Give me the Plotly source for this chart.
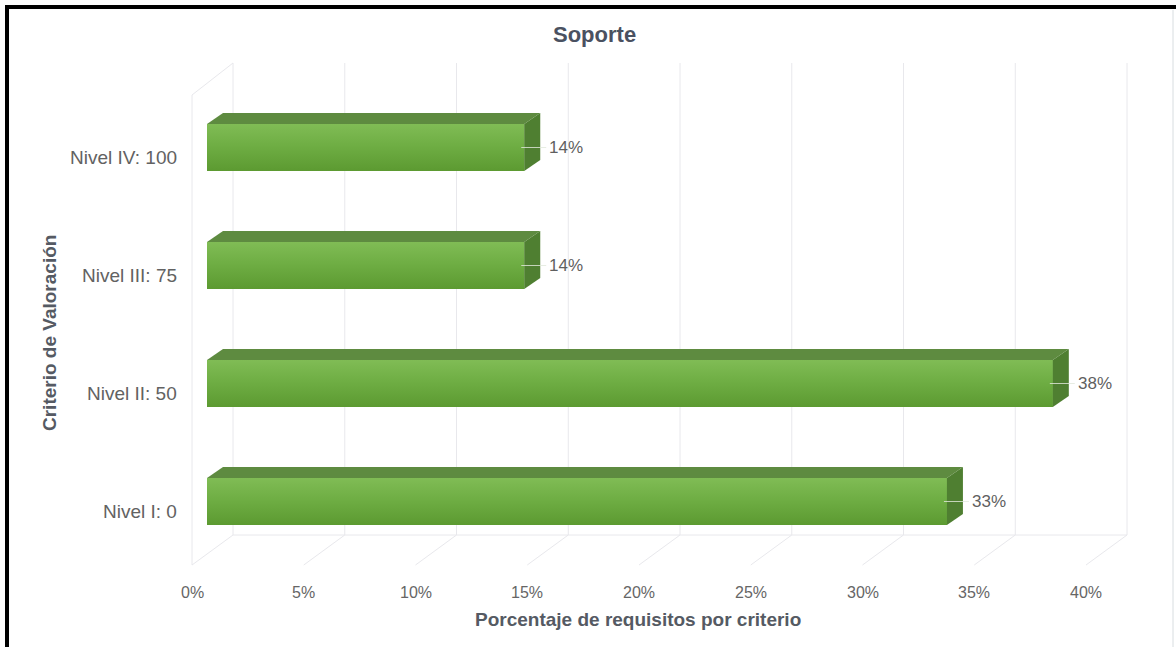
import plotly.graph_objects as go

# ---------------- data ----------------
categories = ["Nivel I: 0", "Nivel II: 50", "Nivel III: 75", "Nivel IV: 100"]
values = [33.33, 38.10, 14.29, 14.29]
value_labels = ["33%", "38%", "14%", "14%"]
tick_values = [0, 5, 10, 15, 20, 25, 30, 35, 40]
tick_labels = ["0%", "5%", "10%", "15%", "20%", "25%", "30%", "35%", "40%"]
title_text = "Soporte"
x_title = "Porcentaje de requisitos por criterio"
y_title = "Criterio de Valoración"

# ---------------- geometry (pixel <-> data) ----------------
W, H = 1176, 647
X0, SX = 207.0, 22.2      # px of 0 %, px per %
Y0, SY = 501.5, 118.0     # px of first category, px per category


def px2x(px):
    return (px - X0) / SX


def py2y(py):
    return (Y0 - py) / SY


BAR_W = 47.0 / SY
DX, DY = 16.0 / SX, 11.0 / SY          # bar depth offsets in data units
BACK_OFF, FRONT_OFF = 26.0, -15.0      # px offsets of back/front planes
TICK_SCALE = 22.35
BACK_TOP, BACK_BOTTOM, FRONT_BOTTOM = 63, 535, 565

FRONT_COL = "#6eab43"
TOP_COL = "#5e8b40"
SIDE_COL = "#4f7f31"
GRID_COL = "#e8e8ec"

idx = list(range(len(categories)))

fig = go.Figure()

# grid: back plane verticals and floor diagonals
shapes = []
for t in tick_values:
    bx = X0 + BACK_OFF + TICK_SCALE * t
    fx = X0 + FRONT_OFF + TICK_SCALE * t
    shapes.append(dict(type="line", xref="x", yref="y",
                       x0=px2x(bx), x1=px2x(bx), y0=py2y(BACK_TOP), y1=py2y(BACK_BOTTOM),
                       line=dict(color=GRID_COL, width=1), layer="below"))
    shapes.append(dict(type="line", xref="x", yref="y",
                       x0=px2x(bx), x1=px2x(fx), y0=py2y(BACK_BOTTOM), y1=py2y(FRONT_BOTTOM),
                       line=dict(color=GRID_COL, width=1), layer="below"))
# left wall
lx_back = X0 + BACK_OFF
lx_front = X0 + FRONT_OFF
shapes.append(dict(type="line", xref="x", yref="y",
                   x0=px2x(lx_front), x1=px2x(lx_front), y0=py2y(BACK_TOP + 32), y1=py2y(FRONT_BOTTOM),
                   line=dict(color=GRID_COL, width=1), layer="below"))
shapes.append(dict(type="line", xref="x", yref="y",
                   x0=px2x(lx_back), x1=px2x(lx_front), y0=py2y(BACK_TOP), y1=py2y(BACK_TOP + 32),
                   line=dict(color=GRID_COL, width=1), layer="below"))
# back-bottom edge
shapes.append(dict(type="line", xref="x", yref="y",
                   x0=px2x(lx_back), x1=px2x(X0 + BACK_OFF + TICK_SCALE * tick_values[-1]),
                   y0=py2y(BACK_BOTTOM), y1=py2y(BACK_BOTTOM),
                   line=dict(color=GRID_COL, width=1), layer="below"))

# frame (black left & top edges, light right edge)
shapes.append(dict(type="line", xref="paper", yref="paper",
                   x0=7 / W, x1=7 / W, y0=0, y1=1 - 5 / H,
                   line=dict(color="black", width=4)))
shapes.append(dict(type="line", xref="paper", yref="paper",
                   x0=5 / W, x1=1, y0=1 - 7 / H, y1=1 - 7 / H,
                   line=dict(color="black", width=4)))
shapes.append(dict(type="line", xref="paper", yref="paper",
                   x0=1173 / W, x1=1173 / W, y0=0, y1=1 - 10 / H,
                   line=dict(color="#d8dde0", width=1)))

# front faces (bars)
fig.add_trace(go.Bar(x=values, y=idx, orientation="h", width=BAR_W,
                     marker=dict(color=FRONT_COL, line=dict(width=0)),
                     hoverinfo="skip"))

for i, v in zip(idx, values):
    top = i + BAR_W / 2
    bot = i - BAR_W / 2
    # gradient overlay on front face
    fig.add_trace(go.Scatter(x=[0, v, v, 0, 0], y=[bot, bot, top, top, bot],
                             mode="lines", line=dict(width=0), fill="toself",
                             fillgradient=dict(type="vertical",
                                               colorscale=[[0, "#5c9a31"], [0.55, "#6fae44"], [1, "#80bc55"]]),
                             hoverinfo="skip"))
    # top face
    fig.add_trace(go.Scatter(x=[0, v, v + DX, DX, 0], y=[top, top, top + DY, top + DY, top],
                             mode="lines", line=dict(width=0), fill="toself",
                             fillcolor=TOP_COL, hoverinfo="skip"))
    # side face
    fig.add_trace(go.Scatter(x=[v, v + DX, v + DX, v, v], y=[top, top + DY, bot + DY, bot, top],
                             mode="lines", line=dict(width=0), fill="toself",
                             fillcolor=SIDE_COL, hoverinfo="skip"))
    # label connector
    fig.add_trace(go.Scatter(x=[v - 3 / SX, v + 22 / SX], y=[i, i],
                             mode="lines", line=dict(color="rgba(225,232,220,0.8)", width=1),
                             hoverinfo="skip"))

annotations = []
# data labels
for i, v, lab in zip(idx, values, value_labels):
    annotations.append(dict(x=v + 23 / SX, y=i, xref="x", yref="y", text=lab,
                            showarrow=False, xanchor="left", yanchor="middle",
                            font=dict(size=17, color="#5f5f5f")))
# category labels
for i, c in zip(idx, categories):
    annotations.append(dict(x=px2x(179), y=i - 10 / SY, xref="x", yref="y", text=c,
                            showarrow=False, xanchor="right", yanchor="middle",
                            font=dict(size=19, color="#626262")))
# x tick labels
for t, lab in zip(tick_values, tick_labels):
    fx = X0 + FRONT_OFF + TICK_SCALE * t
    annotations.append(dict(x=px2x(fx), y=py2y(592), xref="x", yref="y", text=lab,
                            showarrow=False, xanchor="center", yanchor="middle",
                            font=dict(size=16, color="#666666")))
# titles
annotations.append(dict(x=px2x(594), y=py2y(34), xref="x", yref="y",
                        text="<b>" + title_text + "</b>", showarrow=False,
                        font=dict(size=22, color="#4a5161")))
annotations.append(dict(x=px2x(638), y=py2y(619), xref="x", yref="y",
                        text="<b>" + x_title + "</b>", showarrow=False,
                        font=dict(size=19, color="#555a63")))
annotations.append(dict(x=px2x(49), y=py2y(333), xref="x", yref="y",
                        text="<b>" + y_title + "</b>", showarrow=False, textangle=-90,
                        font=dict(size=19, color="#555a63")))

fig.update_layout(
    width=W, height=H,
    margin=dict(l=0, r=0, t=0, b=0),
    paper_bgcolor="white", plot_bgcolor="white",
    showlegend=False,
    font=dict(family="Liberation Sans, Arial, sans-serif"),
    xaxis=dict(range=[px2x(0), px2x(W)], showgrid=False, zeroline=False,
               showticklabels=False, fixedrange=True),
    yaxis=dict(range=[py2y(H), py2y(0)], showgrid=False, zeroline=False,
               showticklabels=False, fixedrange=True),
    shapes=shapes,
    annotations=annotations,
)

fig.write_html("out.html")
